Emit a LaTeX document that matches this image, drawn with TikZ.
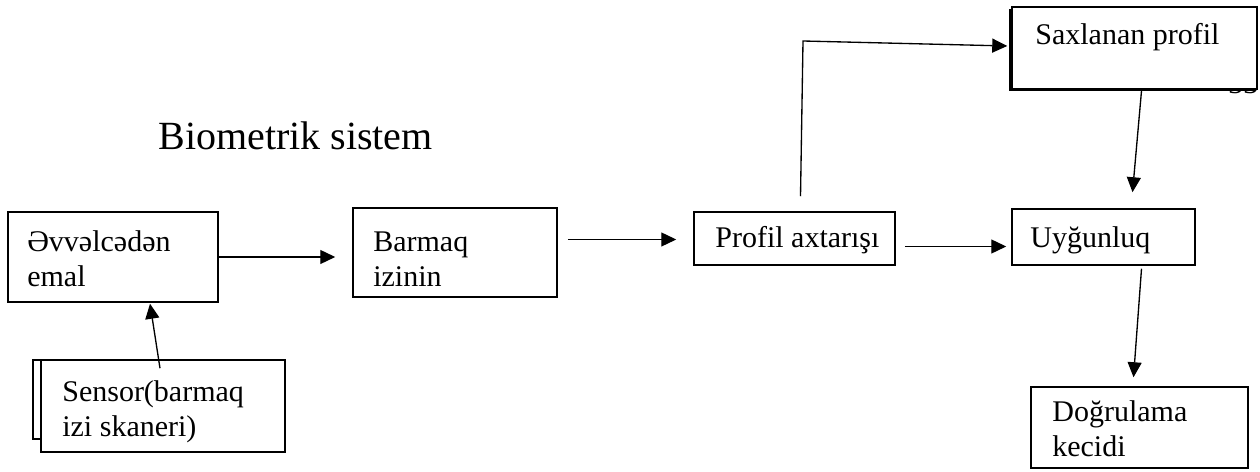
\documentclass[tikz,border=0pt]{standalone}
\usepackage{fontspec}
\setmainfont{Liberation Serif}
\usetikzlibrary{arrows.meta,fit,shadows,calc}
\begin{document}
\begin{tikzpicture}[x=0.6pt,y=-0.6pt,
  box/.style={draw, line width=0.9pt, inner sep=0pt, fill=white},
  lbl/.style={anchor=base west, inner sep=0pt, align=left,
    font=\fontsize{18pt}{21pt}\selectfont},
  arr/.style={line width=0.8pt, -{Triangle[length=9pt,width=8.4pt]}}]
\useasboundingbox (0,0) rectangle (1260,472);

% heading
\node[anchor=base west, inner sep=0pt, font=\fontsize{24pt}{28pt}\selectfont]
  (title) at (158,150) {Biometrik sistem};

% page number, mostly covered by the stored-profile box
\node[lbl] (pgnum) at (1228,94) {33};

% boxes (two-line labels are placed by the baseline of their last line)
\node[box, fit={(8,212) (218,302)}] (pre) {};
\node[lbl] (pretext) at (27,287) {Əvvəlcədən\\emal};

\node[box, fit={(353,208) (557,297)}] (bar) {};
\node[lbl] (bartext) at (373,287) {Barmaq\\izinin};

\node[box, fit={(694,212) (895,265)}] (prof) {};
\node[lbl] (proftext) at (715,248) {Profil axtarışı};

\node[box, fit={(1012,209) (1195,265)}] (uyg) {};
\node[lbl] (uygtext) at (1030,248) {Uyğunluq};

\node[box, general shadow={fill=black, shadow xshift=-2pt, shadow yshift=-1.2pt},
  fit={(1012,7) (1257,89)}] (sax) {};
\node[lbl] (saxtext) at (1035,45) {Saxlanan profil};

\node[box, fit={(33,360) (275,439)}] (senback) {};
\node[box, fit={(41,360) (285,452)}] (sen) {};
\node[lbl] (sentext) at (62,437) {Sensor(barmaq\\izi skaneri)};

\node[box, fit={(1031,387) (1248,468)}] (dog) {};
\node[lbl] (dogtext) at (1052,457) {Doğrulama\\kecidi};

% connectors
\draw[arr] (pre.east) -- ($(bar.west |- pre.east)+(-17,0)$);
\draw[arr] ($(bar.east |- prof.west)+(10,1)$) -- ($(prof.west)+(-17,1)$);
\draw[arr] ($(prof.east)+(9,8)$) -- ($(uyg.west |- prof.east)+(-5,8)$);
\coordinate (bend) at (803,41);
\draw[arr] ($(prof.north)+(6,-15)$) -- (bend) -- ($(sax.west)+(-4,-2)$);
\draw[arr] ($(sax.south)+(7,1)$) -- ($(uyg.north)+(29,-16)$);
\draw[arr] ($(uyg.south)+(38,3)$) -- ($(dog.north)+(-6,-9)$);
\draw[arr] ($(sen.north)+(-3,9)$) -- ($(pre.south)+(37,1)$);
\end{tikzpicture}
\end{document}
